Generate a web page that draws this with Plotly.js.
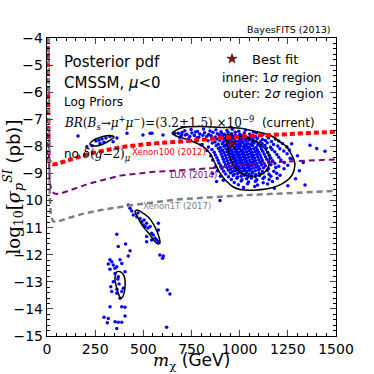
<!DOCTYPE html>
<html>
<head>
<meta charset="utf-8">
<script src="https://cdn.plot.ly/plotly-3.0.1.min.js"></script>
<style>
  html, body { margin: 0; padding: 0; background: #fff; }
  #plot01 { width: 374px; height: 374px; }
</style>
</head>
<body>
<div id="plot01"></div>
<script>
// exclusion limits (log10 sigma vs mass)
let xenon100X = [3, 4, 6, 9, 15, 30, 50, 80, 130, 220, 380, 540, 700, 900, 1100, 1300, 1500];
let xenon100Y = [-4, -5.5, -7.5, -8.45, -8.6, -8.66, -8.65, -8.58, -8.48, -8.27, -8.03, -7.9, -7.82, -7.69, -7.6, -7.53, -7.46];

let luxX = [6, 9, 14, 22, 35, 50, 70, 120, 220, 380, 540, 700, 860, 1028, 1183, 1500];
let luxY = [-7.5, -8.6, -9.3, -9.6, -9.73, -9.76, -9.74, -9.62, -9.37, -9.08, -8.95, -8.88, -8.8, -8.67, -8.58, -8.48];

let xenon1tX = [8, 10, 14, 20, 30, 45, 70, 110, 180, 280, 450, 690, 1036, 1500];
let xenon1tY = [-4, -7, -9.8, -10.55, -10.75, -10.8, -10.75, -10.65, -10.5, -10.35, -10.16, -9.95, -9.8, -9.64];

// 2 sigma contour around the main island
let outerX = [649, 670, 706, 794, 913, 1002, 1088, 1157, 1209, 1244, 1266, 1282, 1287, 1272, 1226, 1157, 1088, 1002, 965, 933, 898, 872, 846, 811, 759, 707, 664, 649];
let outerY = [-7.51, -7.40, -7.30, -7.27, -7.30, -7.33, -7.46, -7.58, -7.83, -8.01, -8.26, -8.50, -8.69, -9.06, -9.36, -9.55, -9.61, -9.59, -9.49, -9.30, -8.99, -8.63, -8.26, -8.01, -7.83, -7.70, -7.60, -7.51];

// 1 sigma contours
let innerX = [929, 981, 1048, 1111, 1147, 1155, 1134, 1090, 1038, 997, 965, 945, 934, 929];
let innerY = [-7.58, -7.62, -7.71, -7.95, -8.25, -8.61, -8.93, -9.09, -9.08, -8.93, -8.65, -8.25, -7.88, -7.58];

let islandAX = [223, 249, 291, 327, 348, 322, 275, 239, 223];
let islandAY = [-7.93, -7.99, -7.91, -7.78, -7.65, -7.60, -7.67, -7.78, -7.93];

let islandBX = [467, 524, 560, 583, 586, 569, 535, 500, 469, 457, 467];
let islandBY = [-10.35, -10.60, -10.97, -11.39, -11.58, -11.58, -11.27, -10.97, -10.60, -10.41, -10.35];

let islandCX = [362, 384, 400, 405, 393, 383, 370, 358, 353, 362];
let islandCY = [-12.63, -12.64, -12.79, -13.18, -13.55, -13.61, -13.42, -13.12, -12.87, -12.63];

// scan points
let pointsX = [
  // near the small upper island
  161, 207, 234, 254, 270, 275, 286, 296, 306, 327, 343, 363, 415, 498, 535, 545, 602, 664, 699,
  // middle island
  422, 431, 440, 448, 466, 472, 483, 492, 500, 504, 509, 517, 524, 535, 543, 552, 561, 569, 578, 517, 543, 578, 578, 517, 586, 600, 604, 898,
  // lower island
  362, 370, 408, 431, 422, 327, 336, 318, 344, 353, 379, 388, 327, 362, 405, 353, 370, 344, 331, 396, 336, 388, 362, 379, 388, 405, 327, 405, 318, 353, 370, 388, 362, 296, 313, 374, 368, 363, 624, 638, 621,
  // main cluster
  715, 748, 781, 812, 846, 877, 903, 934, 962, 995, 1031, 1072,
  682, 701, 726, 752, 770, 793, 818, 839, 861, 884, 905, 921, 940, 958, 977, 1001, 1024, 1052, 1088, 1121,
  695, 718, 741, 765, 788, 809, 830, 852, 873, 894, 912, 929, 945, 961, 978, 996, 1014, 1035, 1057, 1082, 1109, 1143,
  735, 779, 823, 856, 882, 904, 922, 938, 953, 968, 983, 999, 1015, 1032, 1050, 1069, 1092, 1118, 1150, 1186,
  772, 836, 872, 897, 916, 932, 947, 962, 976, 990, 1004, 1018, 1033, 1049, 1066, 1085, 1107, 1133, 1165, 1203,
  805, 858, 889, 910, 927, 942, 956, 970, 984, 998, 1012, 1026, 1041, 1057, 1074, 1094, 1117, 1143, 1176, 1222,
  838, 878, 900, 919, 935, 950, 964, 978, 992, 1006, 1020, 1035, 1050, 1067, 1086, 1107, 1131, 1160, 1198, 1245,
  856, 890, 911, 929, 944, 958, 972, 986, 1000, 1014, 1028, 1043, 1058, 1074, 1092, 1113, 1138, 1168, 1208, 1258,
  868, 898, 919, 936, 951, 965, 979, 993, 1007, 1021, 1035, 1050, 1065, 1081, 1099, 1120, 1146, 1182, 1229,
  874, 904, 925, 942, 957, 971, 985, 999, 1013, 1027, 1041, 1056, 1071, 1088, 1106, 1127, 1154, 1193, 1246,
  882, 910, 931, 948, 963, 977, 991, 1005, 1019, 1033, 1047, 1062, 1077, 1094, 1112, 1134, 1162, 1203, 1262,
  888, 915, 936, 953, 968, 982, 996, 1010, 1024, 1038, 1052, 1067, 1083, 1100, 1118, 1141, 1171, 1214, 1268,
  893, 920, 941, 958, 973, 987, 1001, 1015, 1029, 1043, 1057, 1072, 1089, 1106, 1126, 1150, 1183, 1232,
  902, 927, 947, 964, 979, 993, 1007, 1021, 1035, 1049, 1063, 1078, 1095, 1113, 1134, 1162, 1203, 1250,
  908, 934, 954, 970, 985, 999, 1013, 1027, 1041, 1055, 1070, 1086, 1104, 1124, 1150, 1187, 1230,
  917, 942, 962, 978, 993, 1008, 1022, 1036, 1050, 1065, 1081, 1098, 1118, 1143, 1177,
  927, 952, 971, 989, 1005, 1020, 1035, 1050, 1066, 1083, 1101, 1123, 1152, 1192,
  942, 967, 988, 1007, 1025, 1043, 1061, 1081, 1103, 1129, 1162, 1210,
  957, 986, 1012, 1036, 1061, 1089, 1121, 1153, 1195,
  972, 1008, 1046, 1082, 1122, 1170,
  993, 1041, 1093, 1145,
  1020, 1078,
  // tail and stragglers
  690, 745, 800, 830, 850, 860, 875, 885, 900, 915,
  1365, 1400, 1443, 1339, 1300, 1310, 1290, 1250, 1180, 880, 860, 1270, 1330
];
let pointsY = [
  -7.62, -8.01, -7.98, -7.80, -7.77, -7.89, -7.73, -7.85, -7.69, -7.64, -7.83, -7.69, -7.52, -7.58, -7.52, -7.52, -7.58, -7.52, -7.58,
  -10.16, -10.28, -10.39, -10.53, -10.60, -10.46, -10.66, -10.78, -10.90, -10.72, -10.96, -10.84, -11.01, -10.96, -11.21, -11.27, -11.39, -11.46, -11.52, -11.52, -11.46, -10.84, -11.09, -11.33, -12.01, -12.13, -12.05, -10.00,
  -11.24, -11.70, -11.60, -11.85, -12.05, -12.19, -12.26, -12.34, -12.38, -12.50, -12.19, -12.32, -12.54, -12.44, -12.63, -12.69, -12.81, -13.00, -13.18, -13.24, -13.36, -13.36, -13.42, -13.61, -13.92, -13.94, -13.92, -14.26, -14.35, -14.47, -14.49, -14.49, -14.72, -14.31, -14.51, -13.08, -12.90, -13.27, -13.30, -13.45, -14.68,
  -7.42, -7.38, -7.45, -7.36, -7.43, -7.39, -7.46, -7.41, -7.37, -7.44, -7.40, -7.47,
  -7.52, -7.49, -7.55, -7.51, -7.47, -7.54, -7.50, -7.56, -7.48, -7.53, -7.51, -7.55, -7.49, -7.53, -7.48, -7.55, -7.51, -7.54, -7.50, -7.56,
  -7.62, -7.58, -7.64, -7.60, -7.66, -7.59, -7.63, -7.61, -7.65, -7.58, -7.62, -7.66, -7.60, -7.64, -7.59, -7.63, -7.61, -7.66, -7.60, -7.64, -7.59, -7.63,
  -7.72, -7.68, -7.74, -7.70, -7.73, -7.68, -7.72, -7.69, -7.74, -7.70, -7.67, -7.73, -7.70, -7.74, -7.68, -7.72, -7.70, -7.75, -7.69, -7.73,
  -7.82, -7.79, -7.84, -7.78, -7.83, -7.80, -7.77, -7.84, -7.79, -7.82, -7.78, -7.83, -7.80, -7.77, -7.84, -7.80, -7.83, -7.78, -7.82, -7.80,
  -7.93, -7.88, -7.92, -7.90, -7.94, -7.88, -7.92, -7.89, -7.94, -7.90, -7.87, -7.93, -7.89, -7.92, -7.88, -7.94, -7.90, -7.87, -7.93, -7.89,
  -8.02, -7.98, -8.04, -8.00, -7.97, -8.03, -7.99, -8.04, -8.00, -7.97, -8.03, -7.99, -8.02, -7.98, -8.04, -8.00, -7.97, -8.03, -7.99, -8.02,
  -8.12, -8.08, -8.13, -8.10, -8.07, -8.13, -8.09, -8.12, -8.08, -8.14, -8.10, -8.07, -8.12, -8.09, -8.13, -8.10, -8.07, -8.12, -8.09, -8.13,
  -8.22, -8.18, -8.23, -8.20, -8.17, -8.23, -8.19, -8.22, -8.18, -8.24, -8.20, -8.17, -8.23, -8.19, -8.22, -8.18, -8.23, -8.20, -8.17,
  -8.32, -8.28, -8.33, -8.30, -8.27, -8.33, -8.29, -8.32, -8.28, -8.34, -8.30, -8.27, -8.33, -8.29, -8.32, -8.28, -8.33, -8.30, -8.27,
  -8.42, -8.38, -8.43, -8.40, -8.37, -8.43, -8.39, -8.42, -8.38, -8.44, -8.40, -8.37, -8.43, -8.39, -8.42, -8.38, -8.43, -8.40, -8.44,
  -8.52, -8.48, -8.53, -8.50, -8.47, -8.53, -8.49, -8.52, -8.48, -8.54, -8.50, -8.47, -8.53, -8.49, -8.52, -8.48, -8.53, -8.50, -8.47,
  -8.62, -8.58, -8.63, -8.60, -8.57, -8.63, -8.59, -8.62, -8.58, -8.64, -8.60, -8.57, -8.63, -8.59, -8.62, -8.58, -8.63, -8.60,
  -8.72, -8.68, -8.73, -8.70, -8.67, -8.73, -8.69, -8.72, -8.68, -8.74, -8.70, -8.67, -8.73, -8.69, -8.72, -8.68, -8.73, -8.70,
  -8.82, -8.78, -8.83, -8.80, -8.77, -8.83, -8.79, -8.82, -8.78, -8.84, -8.80, -8.77, -8.83, -8.79, -8.82, -8.78, -8.83,
  -8.92, -8.88, -8.93, -8.90, -8.87, -8.93, -8.89, -8.92, -8.88, -8.94, -8.90, -8.87, -8.93, -8.89, -8.92,
  -9.02, -8.98, -9.03, -9.00, -8.97, -9.03, -8.99, -9.02, -8.98, -9.04, -9.00, -8.97, -9.03, -8.99,
  -9.12, -9.08, -9.13, -9.10, -9.07, -9.13, -9.09, -9.12, -9.08, -9.13, -9.10, -9.07,
  -9.22, -9.18, -9.23, -9.20, -9.17, -9.23, -9.19, -9.22, -9.18,
  -9.33, -9.28, -9.32, -9.29, -9.34, -9.30,
  -9.42, -9.38, -9.43, -9.39,
  -9.52, -9.48,
  -7.68, -7.78, -7.95, -8.15, -8.35, -8.50, -8.75, -8.90, -9.10, -9.25,
  -7.96, -8.08, -8.18, -9.43, -8.35, -8.90, -9.20, -9.45, -9.55, -9.30, -9.00, -7.90, -8.60
];

let bestFitX = [958];
let bestFitY = [-7.91];

let xTicks = [0, 250, 500, 750, 1000, 1250, 1500];
let yTicks = [-15, -14, -13, -12, -11, -10, -9, -8, -7, -6, -5, -4];

// traces
let tracePoints = {
  x: pointsX, y: pointsY, mode: 'markers', type: 'scatter',
  marker: {color: '#0000ff', size: 3.5, line: {width: 0}},
  showlegend: false, hoverinfo: 'skip'
};

function contour(xs, ys) {
  return {
    x: xs, y: ys, mode: 'lines', type: 'scatter',
    line: {color: 'black', width: 1.5, shape: 'spline', smoothing: 0.8},
    showlegend: false, hoverinfo: 'skip'
  };
}

let traceXenon100 = {
  x: xenon100X, y: xenon100Y, mode: 'lines', type: 'scatter',
  line: {color: '#ff0000', width: 4, dash: '5px,3px'},
  showlegend: false, hoverinfo: 'skip'
};
let traceLux = {
  x: luxX, y: luxY, mode: 'lines', type: 'scatter',
  line: {color: '#800080', width: 2, dash: '6px,4px'},
  showlegend: false, hoverinfo: 'skip'
};
let traceXenon1t = {
  x: xenon1tX, y: xenon1tY, mode: 'lines', type: 'scatter',
  line: {color: '#808080', width: 2.5, dash: '6px,4px'},
  showlegend: false, hoverinfo: 'skip'
};
let traceBest = {
  x: bestFitX, y: bestFitY, mode: 'markers', type: 'scatter', name: 'Best fit',
  marker: {symbol: 'star', color: '#a00000', size: 7.5, line: {color: 'black', width: 0.5}},
  showlegend: true, hoverinfo: 'skip'
};

let data01 = [
  tracePoints,
  contour(outerX, outerY), contour(innerX, innerY),
  contour(islandAX, islandAY), contour(islandBX, islandBY), contour(islandCX, islandCY),
  traceXenon100, traceLux, traceXenon1t,
  traceBest
];

let sans = 'DejaVu Sans, sans-serif';
let serif = 'DejaVu Serif, Liberation Serif, serif';

function note(text, x, y, size, extra) {
  let a = {
    text: text, xref: 'paper', yref: 'paper', x: x, y: y,
    xanchor: 'left', yanchor: 'middle', showarrow: false,
    font: {family: sans, size: size, color: 'black'}
  };
  return Object.assign(a, extra || {});
}

let layout01 = {
  width: 374, height: 374,
  margin: {l: 47, r: 38, t: 38, b: 38},
  paper_bgcolor: 'white', plot_bgcolor: 'white',
  font: {family: sans, color: 'black'},
  xaxis: {
    range: [0, 1500], tickvals: xTicks, ticks: 'inside', ticklen: 6, tickwidth: 1,
    showline: true, linecolor: 'black', linewidth: 1.2, mirror: 'ticks',
    showgrid: false, zeroline: false,
    tickfont: {family: sans, size: 14, color: 'black'},
    minor: {dtick: 50, ticks: 'inside', ticklen: 3, tickcolor: 'black'}
  },
  yaxis: {
    range: [-15, -4], tickvals: yTicks, ticks: 'inside', ticklen: 6, tickwidth: 1,
    showline: true, linecolor: 'black', linewidth: 1.2, mirror: 'ticks',
    showgrid: false, zeroline: false,
    tickfont: {family: sans, size: 14, color: 'black'},
    minor: {dtick: 0.2, ticks: 'inside', ticklen: 3, tickcolor: 'black'},
    title: {text: 'log<sub>10</sub>[<i>σ</i><sub><i>p</i></sub><sup><i>SI</i></sup> <span style="font-family:DejaVu Sans">(pb)]</span>',
            font: {family: serif, size: 18, color: 'black'}, standoff: 2}
  },
  legend: {
    x: 0.571, y: 0.93, xanchor: 'left', yanchor: 'middle',
    bgcolor: 'rgba(0,0,0,0)', borderwidth: 0,
    font: {family: sans, size: 13, color: 'black'}
  },
  annotations: [
    // x axis title, placed by hand below the tick labels
    note('<i>m</i><sub>χ</sub> <span style="font-family:DejaVu Sans">(GeV)</span>', 0.5, -0.087, 17,
         {xanchor: 'center', font: {family: serif, size: 17, color: 'black'}}),
    note('Posterior pdf', 0.052, 0.919, 15),
    note('CMSSM, <i>μ</i><0', 0.052, 0.849, 15),
    note('Log Priors', 0.052, 0.785, 12),
    note('<i>BR</i>(<i>B<sub>s</sub></i>→<i>μ</i><sup>+</sup><i>μ</i><sup>−</sup>)=(3.2±1.5) ×10<sup>−9</sup> <span style="font-family:DejaVu Sans"> (current)</span>',
         0.052, 0.715, 12, {font: {family: serif, size: 12, color: 'black'}}),
    note('no <span style="font-family:DejaVu Serif"><i>δ</i>(<i>g</i>−2)<sub><i>μ</i></sub></span>', 0.052, 0.607, 12),
    note('inner: 1<i>σ</i> region', 0.599, 0.866, 12.5),
    note('outer: 2<i>σ</i> region', 0.602, 0.815, 12.5),
    note('BayesFITS (2013)', 0.986, 1.027, 9.5, {xanchor: 'right'}),
    {text: 'Xenon100 (2012)', xref: 'x', yref: 'y', x: 633, y: -8.21, showarrow: false,
     font: {family: sans, size: 8.5, color: '#ff0000'}},
    {text: 'LUX (2014)', xref: 'x', yref: 'y', x: 758, y: -9.06, showarrow: false,
     font: {family: sans, size: 8.5, color: '#800080'}},
    {text: 'Xenon1T (2017)', xref: 'x', yref: 'y', x: 675, y: -10.2, showarrow: false,
     font: {family: sans, size: 8.5, color: '#808080'}}
  ]
};

Plotly.newPlot('plot01', data01, layout01, {staticPlot: true, displayModeBar: false});
</script>
</body>
</html>
